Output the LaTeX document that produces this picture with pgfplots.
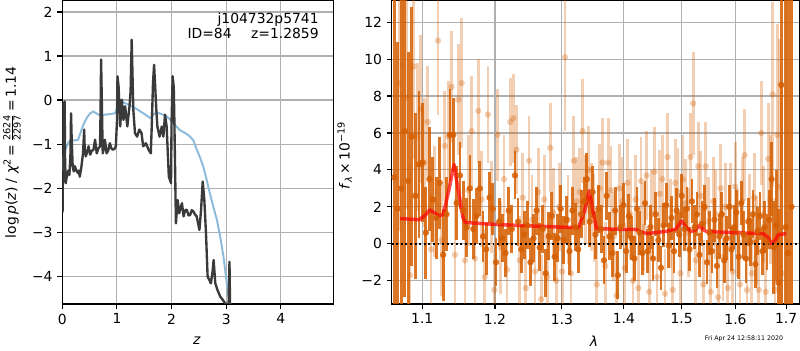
\documentclass[border=0pt]{standalone}
\usepackage{fontspec}
\setmainfont{DejaVu Sans}
\usepackage{pgfplots}
\usepackage{pgfplotstable}
\pgfplotsset{compat=1.18}
\definecolor{verm}{RGB}{213,94,0}
\definecolor{gridc}{RGB}{176,176,176}
\definecolor{pzblue}{RGB}{140,186,218}
\definecolor{pzblack}{RGB}{58,58,58}

\pgfplotstableread{
x y e
1.0640 3.6 12
1.0680 1.9 9
1.0726 3.0 12
1.0772 6.1 9
1.0818 3.4 7
1.0864 5.8 7
1.0910 2.6 4.5
1.0956 4.3 4
1.1002 4.4 3.2
1.1048 0.6 2.5
1.1094 3.5 2.8
1.1140 2.4 2.3
1.1186 1.4 2.2
1.1232 3.3 2.5
1.1278 -0.6 2.5
1.1324 1.6 2.0
1.1370 5.9 2.5
1.1416 5.9 2.0
1.1462 2.2 2.0
1.1508 3.7 1.8
1.1554 1.8 1.6
1.1600 0.9 1.6
1.1646 3.0 1.8
1.1692 0.8 1.6
1.1738 1.5 1.5
1.1784 3.0 1.5
1.1830 0.4 1.4
1.1876 -0.3 1.4
1.1922 2.5 1.4
1.1968 1.9 1.4
1.2014 -1.0 1.3
1.2060 1.2 1.3
1.2106 0.3 1.3
1.2152 -0.5 1.3
1.2198 1.8 1.3
1.2244 0.8 1.3
1.2290 3.7 1.3
1.2336 1.2 1.3
1.2382 -0.3 1.3
1.2428 0.5 1.3
1.2474 1.0 1.3
1.2520 -1.0 1.3
1.2566 0.3 1.3
1.2612 1.8 1.3
1.2658 -0.2 1.3
1.2704 0.8 1.3
1.2750 -1.6 1.3
1.2796 0.4 1.3
1.2842 1.5 1.3
1.2888 -0.7 1.3
1.2934 0.3 1.3
1.2980 1.9 1.3
1.3026 0.2 1.3
1.3072 1.3 1.3
1.3118 -0.4 1.3
1.3164 1.8 1.3
1.3210 0.9 1.3
1.3256 -0.3 1.3
1.3302 1.6 1.3
1.3348 2.3 1.3
1.3394 3.5 1.4
1.3440 1.2 1.4
1.3486 2.8 1.4
1.3532 0.5 1.3
1.3578 1.9 1.3
1.3624 0.8 1.3
1.3670 -0.9 1.3
1.3716 2.6 1.3
1.3762 0.4 1.3
1.3808 -0.5 1.3
1.3854 1.8 1.3
1.3900 -1.7 1.3
1.3946 0.9 1.2
1.3992 2.1 1.2
1.4038 -0.4 1.2
1.4084 1.5 1.2
1.4130 0.3 1.2
1.4176 -0.8 1.2
1.4222 1.9 1.2
1.4268 0.6 1.2
1.4314 -0.5 1.2
1.4360 2.2 1.2
1.4406 -0.4 1.2
1.4452 0.9 1.2
1.4498 -0.8 1.2
1.4544 1.6 1.2
1.4590 0.2 1.2
1.4636 -1.3 1.2
1.4682 1.0 1.2
1.4728 2.1 1.2
1.4774 -0.1 1.2
1.4820 1.4 1.2
1.4866 -0.4 1.2
1.4912 1.8 1.2
1.4958 0.5 1.2
1.5004 2.6 1.2
1.5050 0.8 1.2
1.5096 1.9 1.2
1.5142 -0.3 1.2
1.5188 2.3 1.2
1.5234 0.9 1.2
1.5280 1.6 1.2
1.5326 -0.6 1.2
1.5372 1.1 1.2
1.5418 2.0 1.2
1.5464 -1.0 1.2
1.5510 0.6 1.2
1.5556 -0.4 1.2
1.5602 1.3 1.2
1.5648 -1.2 1.2
1.5694 0.4 1.2
1.5740 1.6 1.2
1.5786 -0.9 1.2
1.5832 0.3 1.2
1.5878 2.0 1.2
1.5924 -0.3 1.2
1.5970 0.9 1.2
1.6016 1.7 1.2
1.6062 -0.7 1.2
1.6108 2.2 1.2
1.6154 0.5 1.3
1.6200 -0.8 1.3
1.6246 1.2 1.3
1.6292 0.1 1.3
1.6338 1.6 1.3
1.6384 -1.1 1.3
1.6430 0.7 1.3
1.6476 1.5 1.3
1.6522 -0.4 1.3
1.6568 0.9 1.4
1.6614 0.1 1.5
1.6660 1.3 1.6
1.6706 3.5 2.0
1.6752 -0.2 2.5
1.6798 1.0 3
1.6844 -2.1 4
1.6900 8.6 14
1.6990 0.9 16
1.7040 -0.5 14
1.7110 2.0 18
}\darkdata

\pgfplotstableread{
x y e
1.0703 8.7 8
1.0749 9.7 7
1.0795 7.9 6
1.0841 -1.7 6
1.0887 9.6 5
1.0933 5.8 4
1.0979 7.3 4
1.1025 4.4 3.5
1.1071 6.6 3
1.1117 -0.3 3
1.1163 2.3 3
1.1209 11.0 4
1.1255 0.2 3
1.1301 5.3 3
1.1347 5.8 3
1.1393 8.5 3
1.1439 -0.6 3
1.1485 7.8 3
1.1531 8.7 3.5
1.1577 -0.9 3
1.1623 2.9 3
1.1669 6.1 3
1.1715 -0.8 2.8
1.1761 7.2 2.8
1.1807 2.4 2.6
1.1853 -1.8 2.6
1.1899 7.0 2.6
1.1945 2.0 2.5
1.1991 -2.5 2.5
1.2037 5.9 2.5
1.2083 -0.2 2.5
1.2129 3.5 2.4
1.2175 -1.4 2.4
1.2221 6.6 2.4
1.2267 6.8 2.4
1.2313 5.1 2.4
1.2359 -0.9 2.4
1.2405 2.5 2.4
1.2451 -2.4 2.4
1.2497 4.5 2.4
1.2543 1.3 2.4
1.2589 -1.5 2.4
1.2635 2.8 2.4
1.2681 -3.0 2.4
1.2727 2.4 2.4
1.2773 -1.8 2.4
1.2819 5.2 2.4
1.2865 1.7 2.4
1.2911 -2.0 2.4
1.2957 2.0 2.4
1.3003 -1.5 2.4
1.3049 10.1 4
1.3095 1.3 2.4
1.3141 -1.6 2.4
1.3187 4.5 2.4
1.3233 2.3 2.4
1.3279 2.8 2.4
1.3325 6.1 2.8
1.3371 2.4 2.4
1.3417 4.0 2.4
1.3463 2.0 2.4
1.3509 1.4 2.4
1.3555 -2.2 2.4
1.3601 3.0 2.4
1.3647 4.4 2.4
1.3693 -1.2 2.4
1.3739 4.4 2.4
1.3785 2.9 2.4
1.3831 0.4 2.4
1.3877 -2.8 2.4
1.3923 3.0 2.4
1.3969 2.3 2.4
1.4015 -1.3 2.4
1.4061 3.3 2.4
1.4107 1.6 2.4
1.4153 -2.0 2.4
1.4199 2.4 2.4
1.4245 -2.4 2.4
1.4291 3.4 2.4
1.4337 0.9 2.4
1.4383 3.7 2.4
1.4429 -2.6 2.4
1.4475 1.6 2.4
1.4521 3.9 2.4
1.4567 -1.8 2.4
1.4613 2.7 2.4
1.4659 3.5 2.4
1.4705 -2.7 2.4
1.4751 4.7 2.4
1.4797 1.1 2.4
1.4843 -2.5 2.4
1.4889 3.3 2.4
1.4935 2.8 2.4
1.4981 -1.6 2.4
1.5027 3.5 2.4
1.5073 2.2 2.4
1.5119 0.6 2.4
1.5165 4.7 2.4
1.5211 7.6 2.8
1.5257 -0.9 2.4
1.5303 4.2 2.4
1.5349 2.6 2.4
1.5395 -2.2 2.4
1.5441 4.2 2.4
1.5487 1.2 2.4
1.5533 -2.6 2.4
1.5579 2.3 2.4
1.5625 1.6 2.4
1.5671 -2.9 2.4
1.5717 3.0 2.4
1.5763 -0.7 2.4
1.5809 2.0 2.4
1.5855 -2.4 2.4
1.5901 2.0 2.4
1.5947 -1.5 2.4
1.5993 3.1 2.4
1.6039 0.6 2.4
1.6085 -2.2 2.4
1.6131 2.3 2.4
1.6177 4.8 2.5
1.6223 -2.5 2.4
1.6269 1.4 2.4
1.6315 -1.6 2.4
1.6361 2.5 2.4
1.6407 0.2 2.4
1.6453 -2.5 2.4
1.6499 6.0 2.8
1.6545 1.6 2.6
1.6591 -2.6 2.8
1.6637 4.6 3
1.6683 2.4 3.5
1.6729 8.1 5
1.6775 -2.5 5
1.6821 5.9 6
1.6867 3.1 8
1.6913 -1.6 10
}\lightdata

\pgfplotsset{
  chartstyle/.style={
    scale only axis,
    axis line style={line width=0.8pt},
    tick align=outside,
    major tick length=3.5pt,
    tick pos=left,
    tick style={line width=0.8pt, black},
    grid=major,
    major grid style={line width=0.8pt, color=gridc},
    tick label style={font=\fontsize{10}{12}\selectfont},
    label style={font=\fontsize{10}{12}\selectfont},
  }
}
\newcommand{\fr}[2]{\ensuremath{\frac{\mbox{\fontsize{7}{8}\selectfont #1}}{\mbox{\fontsize{7}{8}\selectfont #2}}}}

\begin{document}
\begin{tikzpicture}
\useasboundingbox (0,0) rectangle (576pt,252pt);

\begin{axis}[chartstyle,
  at={(44.86pt,33.12pt)}, anchor=south west,
  width=195.1pt, height=218.2pt,
  xmin=0, xmax=4.96, ymin=-4.63, ymax=2.25,
  xtick={0,1,2,3,4}, xticklabels={0,1,2,3,4},
  ytick={-4,-3,-2,-1,0,1,2}, yticklabels={−4,−3,−2,−1,0,1,2},
  xlabel={\textit{z}},
  xlabel style={at={(axis description cs:0.497,-0.122)}, anchor=center},
  ylabel={log\,\textit{p}(\textit{z}) / \textit{χ}\textsuperscript{2}\,=\,\fr{2624}{2297}\,=\,1.14},
  ylabel style={at={(axis description cs:-0.186,0.5)}, anchor=center},
]
\addplot[pzblue, line width=1.4pt] coordinates {
(0.0,-1.6)(0.02,-1.28)(0.05,-1.15)(0.08,-1.05)(0.12,-0.95)(0.17,-0.90)(0.23,-0.92)(0.29,-0.90)(0.34,-0.72)(0.385,-0.56)(0.45,-0.40)(0.51,-0.30)(0.57,-0.26)(0.62,-0.3)(0.66,-0.33)(0.72,-0.35)(0.78,-0.33)(0.87,-0.32)(0.965,-0.30)(1.0,-0.2)(1.03,-0.03)(1.09,-0.04)(1.15,-0.07)(1.24,-0.12)(1.33,-0.18)(1.42,-0.25)(1.52,-0.33)(1.61,-0.41)(1.67,-0.32)(1.73,-0.28)(1.82,-0.32)(1.91,-0.37)(1.98,-0.45)(2.06,-0.56)(2.15,-0.68)(2.25,-0.75)(2.34,-0.83)(2.40,-0.92)(2.46,-1.12)(2.52,-1.3)(2.58,-1.51)(2.64,-1.8)(2.70,-2.11)(2.77,-2.45)(2.83,-2.72)(2.89,-3.1)(2.95,-3.55)(3.00,-4.05)(3.04,-4.45)(3.09,-4.7)(3.12,-4.9)
};
\addplot[pzblack, line width=1.7pt, line join=round] coordinates {
(0.000,-2.55)(0.007,-2.49)(0.012,-1.2)(0.019,-0.07)(0.025,-1.5)(0.031,-1.05)(0.037,-0.5)(0.043,-0.03)(0.05,-1.3)(0.062,-1.89)(0.08,-1.75)(0.10,-1.68)(0.11,-1.6)(0.13,-1.7)(0.15,-1.2)(0.16,-0.30)(0.17,-0.8)(0.19,-1.51)(0.21,-1.62)(0.23,-1.50)(0.25,-1.58)(0.28,-1.65)(0.30,-1.60)(0.32,-1.74)(0.35,-1.51)(0.38,-1.2)(0.40,-0.67)(0.41,-1.1)(0.43,-1.28)(0.45,-1.2)(0.48,-1.05)(0.51,-1.24)(0.54,-1.15)(0.57,-1.13)(0.60,-0.90)(0.63,-1.21)(0.66,-1.1)(0.69,-1.05)(0.70,-0.3)(0.71,0.92)(0.72,0.2)(0.74,-1.21)(0.76,-1.1)(0.78,-0.90)(0.81,-1.21)(0.84,-1.15)(0.87,-0.98)(0.90,-1.1)(0.93,-1.13)(0.96,-1.1)(0.98,-1.05)(1.00,-0.5)(1.01,0.54)(1.03,0.31)(1.05,-0.3)(1.06,-0.60)(1.09,0.01)(1.12,-0.45)(1.15,-0.14)(1.19,-0.60)(1.23,-0.14)(1.25,0.2)(1.27,1.37)(1.29,0.3)(1.30,-0.22)(1.33,-0.75)(1.37,-0.83)(1.41,-0.67)(1.45,-0.75)(1.48,-1.05)(1.53,-0.98)(1.58,-1.13)(1.62,-1.21)(1.64,-0.5)(1.66,0.39)(1.68,0.80)(1.70,0.31)(1.72,-0.2)(1.74,-0.60)(1.78,-0.83)(1.82,-0.60)(1.85,-0.83)(1.88,-0.33)(1.91,-0.60)(1.95,-1.74)(1.99,-1.89)(2.00,-0.5)(2.02,0.54)(2.04,0.3)(2.05,-0.37)(2.08,-2.80)(2.11,-2.27)(2.14,-2.57)(2.19,-2.34)(2.22,-2.64)(2.25,-2.50)(2.28,-2.49)(2.31,-2.62)(2.34,-2.61)(2.37,-2.50)(2.40,-2.53)(2.43,-2.6)(2.46,-2.64)(2.51,-2.95)(2.54,-2.49)(2.57,-1.85)(2.60,-2.27)(2.63,-3.02)(2.66,-4.01)(2.69,-4.08)(2.72,-4.16)(2.75,-3.9)(2.77,-3.63)(2.80,-4.16)(2.84,-4.31)(2.89,-4.46)(2.94,-4.54)(3.00,-4.65)(3.03,-5.5)(3.06,-3.67)(3.08,-5.5)(3.15,-6)
};
\node[anchor=north east, align=right, font=\fontsize{10}{11}\selectfont, inner sep=0pt]
  at (rel axis cs:0.947,0.962) {j104732p5741\\ID=84\hspace{14pt}z=1.2859};
\end{axis}

\begin{axis}[chartstyle,
  at={(282.0pt,33.12pt)}, anchor=south west,
  width=293.5pt, height=218.2pt,
  xmode=log,
  xmin=1.0605, xmax=1.727, ymin=-3.26, ymax=13.15,
  xtick={1.1,1.2,1.3,1.4,1.5,1.6,1.7}, xticklabels={1.1,1.2,1.3,1.4,1.5,1.6,1.7},
  minor xtick={}, 
  ytick={-2,0,2,4,6,8,10,12}, yticklabels={−2,0,2,4,6,8,10,12},
  xlabel={\textit{λ}},
  xlabel style={at={(axis description cs:0.496,-0.122)}, anchor=center},
  ylabel={\textit{f}\textsubscript{\textit{λ}}\,×\,10\textsuperscript{−19}},
  ylabel style={at={(axis description cs:-0.115,0.49)}, anchor=center},
]
\addplot[only marks, mark=*, mark size=2.3pt, color=verm,
  mark options={draw opacity=0, fill opacity=0.3},
  error bars/.cd, y dir=both, y explicit, error mark=none,
  error bar style={line width=2pt, color=verm, opacity=0.3}]
  table[x=x, y=y, y error=e] {\lightdata};
\addplot[only marks, mark=*, mark size=2.3pt, color=verm,
  mark options={draw opacity=0, fill opacity=0.85},
  error bars/.cd, y dir=both, y explicit, error mark=none,
  error bar style={line width=2pt, color=verm, opacity=0.85}]
  table[x=x, y=y, y error=e] {\darkdata};
\addplot[red, opacity=0.7, line width=2.5pt, line join=round] coordinates {
(1.0711,1.37)(1.096,1.30)(1.104,1.55)(1.110,1.84)(1.1226,1.51)(1.128,1.6)(1.135,2.8)(1.1427,4.3)(1.148,3.0)(1.155,1.4)(1.158,1.15)(1.20,1.05)(1.25,0.97)(1.30,0.9)(1.326,0.88)(1.336,1.8)(1.3434,2.88)(1.349,1.8)(1.355,0.82)(1.40,0.78)(1.419,0.78)(1.439,0.55)(1.474,0.68)(1.490,0.8)(1.500,1.24)(1.508,0.9)(1.5164,0.66)(1.525,0.75)(1.5327,1.0)(1.540,0.75)(1.546,0.66)(1.60,0.6)(1.654,0.55)(1.663,0.35)(1.671,0.0)(1.678,0.2)(1.6845,0.5)(1.70,0.55)
};
\addplot[black, line width=1.4pt, dash pattern=on 1.4pt off 1.9pt] coordinates {(1.0605,0) (1.727,0)};
\end{axis}

\node[font=\fontsize{4.5}{5}\selectfont] at (535.7pt,7.9pt) {Fri Apr 24 12:58:11 2020};
\end{tikzpicture}
\end{document}
